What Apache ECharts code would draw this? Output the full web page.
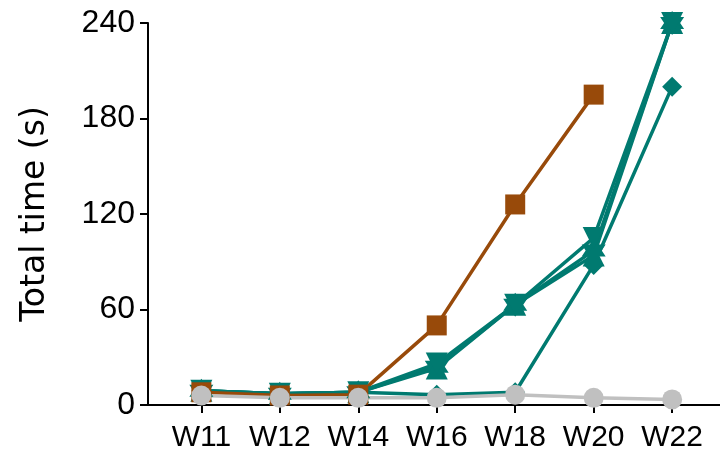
<!DOCTYPE html>
<html>
<head>
<meta charset="utf-8">
<script src="https://cdn.jsdelivr.net/npm/echarts@6/dist/echarts.min.js"></script>
<style>html,body{margin:0;padding:0;background:#fff}#c{width:720px;height:456px}</style>
</head>
<body>
<div id="c"></div>
<script>
const categories = ['W11', 'W12', 'W14', 'W16', 'W18', 'W20', 'W22'];
const yTicks = [0, 60, 120, 180, 240];
const orangeSquares = [8, 6, 6.5, 50, 126, 195, null];
const grayCircles = [6, 4.5, 4.5, 4.5, 6.5, 4.5, 3.5];
const tealTriDown = [9, 7, 8, 26, 63, 105, 240];
const tealTriUp = [9, 7, 8, 23, 63, 94, 240];
const tealStar = [9, 7, 8, 24, 63, 97, 240];
const tealDiamond = [9, 7, 8, 6.5, 8, 88, 200];

const TEAL = '#007A70', ORANGE = '#984A0A', GRAY = '#C0C0C0';
const STAR = 'path://M0,-10 L2.9,-5 L8.66,-5 L5.8,0 L8.66,5 L2.9,5 L0,10 L-2.9,5 L-8.66,5 L-5.8,0 L-8.66,-5 L-2.9,-5 Z';

// category positions 1..N on a numeric axis (keeps 0 out of range)
const catPos = categories.map((c, i) => i + 1);
function pts(arr) { return arr.map((v, i) => [catPos[i], v]); }
function mk(data, color, symbol, size, rotate) {
  return {
    type: 'line', data: pts(data), symbol: symbol, symbolSize: size, symbolRotate: rotate || 0,
    lineStyle: { color: color, width: 3.5 }, itemStyle: { color: color },
    clip: false, animation: false, connectNulls: false
  };
}

const chart = echarts.init(document.getElementById('c'));
chart.setOption({
  animation: false,
  grid: { left: 148, right: 0, top: 23, bottom: 51, containLabel: false },
  xAxis: {
    type: 'value', min: 0.32, max: 7.61,
    splitLine: { show: false },
    axisLine: { show: true, onZero: false, lineStyle: { color: '#000', width: 2 } },
    axisTick: { show: true, length: 8, lineStyle: { color: '#000', width: 2 }, customValues: catPos },
    axisLabel: { customValues: catPos, formatter: v => categories[Math.round(v) - 1], color: '#000', fontSize: 30, fontFamily: 'Liberation Sans', margin: 18 }
  },
  yAxis: {
    type: 'value', min: yTicks[0], max: yTicks[yTicks.length - 1], interval: 60,
    name: 'Total time (s)', nameLocation: 'middle', nameGap: 96,
    nameTextStyle: { fontSize: 33, fontFamily: 'DejaVu Sans', color: '#000' },
    splitLine: { show: false },
    axisLine: { show: true, onZero: false, lineStyle: { color: '#000', width: 2 } },
    axisTick: { show: true, length: 8, lineStyle: { color: '#000', width: 2 } },
    axisLabel: { color: '#000', fontSize: 32, fontFamily: 'Liberation Sans', margin: 13 }
  },
  series: [
    mk(tealDiamond, TEAL, 'diamond', 20),
    mk(tealStar, TEAL, STAR, 24),
    mk(tealTriUp, TEAL, 'triangle', 22),
    mk(tealTriDown, TEAL, 'triangle', 22, 180),
    mk(orangeSquares, ORANGE, 'rect', 20),
    mk(grayCircles, GRAY, 'circle', 20)
  ]
});
</script>
</body>
</html>
